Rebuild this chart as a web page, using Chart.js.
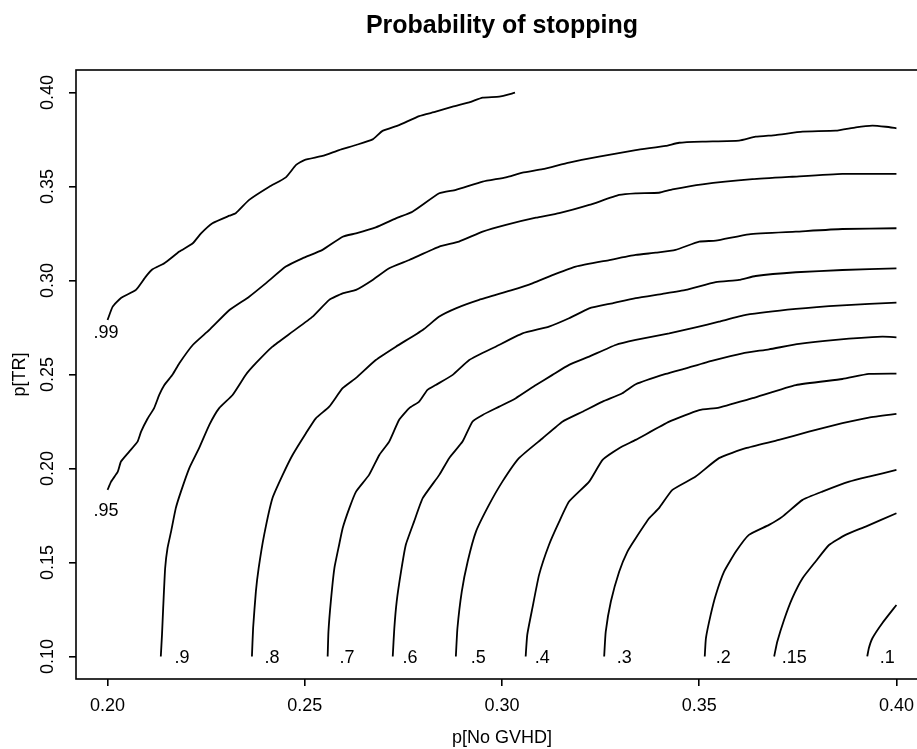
<!DOCTYPE html>
<html>
<head>
<meta charset="utf-8">
<script src="https://cdn.jsdelivr.net/npm/chart.js@4.4.1/dist/chart.umd.min.js"></script>
<style>
  html, body { margin: 0; padding: 0; background: #fff; overflow: hidden; }
  #wrap { width: 917px; height: 749px; overflow: hidden; }
</style>
</head>
<body>
<div id="wrap"><canvas id="stopChart" width="940" height="749"></canvas></div>
<script>
const xTicks = [0.20, 0.25, 0.30, 0.35, 0.40];
const yTicks = [0.10, 0.15, 0.20, 0.25, 0.30, 0.35, 0.40];

// contour levels and where their labels sit (data units)
const levels = [".99", ".95", ".9", ".8", ".7", ".6", ".5", ".4", ".3", ".2", ".15", ".1"];
const labelX = [0.1996, 0.1996, 0.2189, 0.2417, 0.2607, 0.2767, 0.2940, 0.3102, 0.3310, 0.3561, 0.3741, 0.3977];
const labelY = [0.2720, 0.1772, 0.099, 0.099, 0.099, 0.099, 0.099, 0.099, 0.099, 0.099, 0.099, 0.099];

// contour lines, [p(No GVHD), p(TR)]
const p99 = [[0.2000,0.2790],[0.2013,0.2861],[0.2034,0.2907],[0.2072,0.2950],[0.2097,0.3021],[0.2114,0.3060],[0.2144,0.3092],[0.2182,0.3154],[0.2216,0.3198],[0.2237,0.3251],[0.2266,0.3305],[0.2309,0.3345],[0.2325,0.3358],[0.2359,0.3429],[0.2410,0.3499],[0.2452,0.3549],[0.2478,0.3615],[0.2499,0.3641],[0.2545,0.3663],[0.2587,0.3694],[0.2630,0.3721],[0.2672,0.3751],[0.2697,0.3796],[0.2739,0.3827],[0.2790,0.3875],[0.2832,0.3898],[0.2875,0.3925],[0.2917,0.3948],[0.2951,0.3973],[0.2993,0.3978],[0.3033,0.3999]];
const p95 = [[0.2000,0.1886],[0.2009,0.1930],[0.2026,0.1983],[0.2034,0.2037],[0.2055,0.2090],[0.2076,0.2143],[0.2085,0.2196],[0.2102,0.2267],[0.2118,0.2321],[0.2131,0.2391],[0.2144,0.2444],[0.2165,0.2500],[0.2182,0.2560],[0.2216,0.2657],[0.2258,0.2737],[0.2309,0.2843],[0.2359,0.2914],[0.2401,0.2985],[0.2452,0.3074],[0.2494,0.3118],[0.2545,0.3163],[0.2596,0.3233],[0.2630,0.3251],[0.2680,0.3283],[0.2731,0.3331],[0.2773,0.3366],[0.2841,0.3464],[0.2883,0.3482],[0.2951,0.3526],[0.3010,0.3549],[0.3052,0.3574],[0.3103,0.3592],[0.3170,0.3627],[0.3246,0.3659],[0.3339,0.3694],[0.3415,0.3716],[0.3449,0.3733],[0.3508,0.3739],[0.3601,0.3744],[0.3643,0.3765],[0.3694,0.3774],[0.3762,0.3792],[0.3846,0.3797],[0.3897,0.3815],[0.3939,0.3824],[0.3973,0.3818],[0.4000,0.3810]];
const p90 = [[0.2135,0.1000],[0.2138,0.1115],[0.2141,0.1257],[0.2146,0.1469],[0.2152,0.1576],[0.2161,0.1664],[0.2173,0.1789],[0.2186,0.1877],[0.2207,0.2001],[0.2232,0.2108],[0.2258,0.2232],[0.2283,0.2321],[0.2317,0.2391],[0.2351,0.2500],[0.2376,0.2560],[0.2418,0.2648],[0.2469,0.2728],[0.2520,0.2808],[0.2562,0.2897],[0.2596,0.2932],[0.2630,0.2950],[0.2672,0.3003],[0.2714,0.3065],[0.2765,0.3109],[0.2841,0.3180],[0.2891,0.3207],[0.2951,0.3260],[0.3010,0.3296],[0.3086,0.3334],[0.3145,0.3358],[0.3221,0.3402],[0.3297,0.3455],[0.3339,0.3464],[0.3398,0.3467],[0.3432,0.3485],[0.3508,0.3512],[0.3635,0.3539],[0.3736,0.3552],[0.3863,0.3567],[0.4000,0.3567]];
const p80 = [[0.2366,0.1000],[0.2369,0.1150],[0.2376,0.1345],[0.2383,0.1469],[0.2397,0.1647],[0.2418,0.1842],[0.2444,0.1966],[0.2469,0.2072],[0.2503,0.2188],[0.2528,0.2267],[0.2562,0.2329],[0.2596,0.2427],[0.2630,0.2482],[0.2680,0.2577],[0.2731,0.2648],[0.2799,0.2737],[0.2841,0.2808],[0.2883,0.2852],[0.2942,0.2897],[0.3027,0.2950],[0.3077,0.2985],[0.3136,0.3035],[0.3187,0.3074],[0.3272,0.3109],[0.3339,0.3136],[0.3390,0.3148],[0.3440,0.3163],[0.3500,0.3207],[0.3542,0.3212],[0.3626,0.3246],[0.3745,0.3260],[0.3863,0.3274],[0.4000,0.3278]];
const p70 = [[0.2558,0.1000],[0.2560,0.1132],[0.2566,0.1292],[0.2575,0.1469],[0.2587,0.1593],[0.2596,0.1682],[0.2613,0.1789],[0.2630,0.1877],[0.2663,0.1966],[0.2689,0.2072],[0.2714,0.2143],[0.2739,0.2258],[0.2765,0.2321],[0.2790,0.2356],[0.2811,0.2418],[0.2832,0.2444],[0.2875,0.2498],[0.2917,0.2577],[0.2984,0.2648],[0.3052,0.2719],[0.3119,0.2755],[0.3170,0.2799],[0.3221,0.2852],[0.3280,0.2879],[0.3339,0.2906],[0.3407,0.2929],[0.3466,0.2950],[0.3542,0.2991],[0.3601,0.3003],[0.3643,0.3024],[0.3745,0.3044],[0.3863,0.3056],[0.4000,0.3065]];
const p60 = [[0.2723,0.1000],[0.2727,0.1150],[0.2733,0.1292],[0.2744,0.1451],[0.2756,0.1593],[0.2777,0.1717],[0.2799,0.1842],[0.2841,0.1966],[0.2866,0.2055],[0.2900,0.2143],[0.2925,0.2249],[0.2951,0.2285],[0.2993,0.2329],[0.3035,0.2374],[0.3086,0.2444],[0.3128,0.2498],[0.3170,0.2551],[0.3221,0.2595],[0.3288,0.2657],[0.3339,0.2684],[0.3424,0.2719],[0.3491,0.2751],[0.3550,0.2781],[0.3618,0.2817],[0.3745,0.2849],[0.3863,0.2868],[0.4000,0.2882]];
const p50 = [[0.2883,0.1000],[0.2887,0.1150],[0.2898,0.1345],[0.2913,0.1505],[0.2934,0.1664],[0.2967,0.1806],[0.3001,0.1930],[0.3043,0.2055],[0.3103,0.2161],[0.3153,0.2249],[0.3204,0.2302],[0.3255,0.2356],[0.3305,0.2400],[0.3339,0.2448],[0.3415,0.2503],[0.3466,0.2533],[0.3534,0.2574],[0.3610,0.2613],[0.3677,0.2634],[0.3753,0.2663],[0.3846,0.2684],[0.3964,0.2701],[0.4000,0.2698]];
const p40 = [[0.3060,0.1000],[0.3064,0.1115],[0.3077,0.1257],[0.3094,0.1434],[0.3119,0.1593],[0.3145,0.1717],[0.3170,0.1824],[0.3221,0.1930],[0.3255,0.2046],[0.3297,0.2108],[0.3339,0.2152],[0.3424,0.2249],[0.3500,0.2311],[0.3550,0.2324],[0.3635,0.2374],[0.3745,0.2444],[0.3863,0.2476],[0.3930,0.2503],[0.4000,0.2505]];
const p30 = [[0.3259,0.1000],[0.3263,0.1132],[0.3276,0.1292],[0.3297,0.1451],[0.3318,0.1558],[0.3339,0.1629],[0.3373,0.1735],[0.3398,0.1789],[0.3432,0.1886],[0.3491,0.1957],[0.3550,0.2055],[0.3618,0.2108],[0.3702,0.2152],[0.3778,0.2196],[0.3863,0.2241],[0.3930,0.2271],[0.4000,0.2290]];
const p20 = [[0.3514,0.1000],[0.3517,0.1097],[0.3529,0.1221],[0.3542,0.1327],[0.3563,0.1451],[0.3593,0.1558],[0.3626,0.1647],[0.3677,0.1700],[0.3711,0.1744],[0.3762,0.1833],[0.3812,0.1877],[0.3880,0.1930],[0.3930,0.1957],[0.4000,0.1992]];
const p15 = [[0.3690,0.1000],[0.3698,0.1079],[0.3715,0.1194],[0.3736,0.1310],[0.3762,0.1416],[0.3795,0.1505],[0.3829,0.1593],[0.3871,0.1647],[0.3922,0.1691],[0.4000,0.1762]];
const p10 = [[0.3926,0.1000],[0.3930,0.1044],[0.3939,0.1097],[0.3964,0.1177],[0.4000,0.1274]];

const curves = [p99, p95, p90, p80, p70, p60, p50, p40, p30, p20, p15, p10];

const FONT = "'Liberation Sans', Arial, Helvetica, sans-serif";

// frame, contour labels and the main title
const framePlugin = {
  id: "framePlugin",
  afterDatasetsDraw(chart) {
    const { ctx, chartArea: a, scales } = chart;
    ctx.save();
    ctx.strokeStyle = "#000";
    ctx.lineWidth = 1.6;
    ctx.strokeRect(a.left, a.top, a.right - a.left, a.bottom - a.top);

    ctx.fillStyle = "#000";
    ctx.textAlign = "center";
    ctx.textBaseline = "middle";
    ctx.font = "18px " + FONT;
    levels.forEach((txt, i) => {
      ctx.fillText(txt, scales.x.getPixelForValue(labelX[i]), scales.y.getPixelForValue(labelY[i]));
    });

    ctx.font = "bold 25px " + FONT;
    ctx.textBaseline = "alphabetic";
    ctx.fillText("Probability of stopping", (a.left + a.right) / 2, 33);
    ctx.restore();
  }
};

const ctx = document.getElementById("stopChart").getContext("2d");

new Chart(ctx, {
  type: "scatter",
  plugins: [framePlugin],
  data: {
    datasets: curves.map((pts, i) => ({
      label: levels[i],
      data: pts.map(([x, y]) => ({ x: x, y: y })),
      showLine: true,
      borderColor: "#000",
      borderWidth: 1.8,
      pointRadius: 0,
      tension: 0.15,
      fill: false
    }))
  },
  options: {
    responsive: false,
    animation: false,
    layout: { padding: { top: 70, right: 12, left: 0, bottom: 0 } },
    plugins: {
      legend: { display: false },
      tooltip: { enabled: false }
    },
    scales: {
      x: {
        type: "linear",
        min: 0.192,
        max: 0.408,
        afterBuildTicks: (s) => { s.ticks = xTicks.map(v => ({ value: v })); },
        afterFit: (s) => { s.height = 70; },
        border: { display: false },
        grid: { drawOnChartArea: false, drawTicks: true, tickLength: 7, color: "#000", lineWidth: 1.6 },
        ticks: {
          color: "#000",
          font: { family: FONT, size: 18 },
          padding: 9,
          maxRotation: 0,
          autoSkip: false,
          callback: (v) => v.toFixed(2)
        },
        title: {
          display: true,
          text: "p[No GVHD]",
          color: "#000",
          font: { family: FONT, size: 18 },
          padding: { top: 0, bottom: 0 }
        }
      },
      y: {
        type: "linear",
        min: 0.088,
        max: 0.412,
        afterBuildTicks: (s) => { s.ticks = yTicks.map(v => ({ value: v })); },
        afterFit: (s) => { s.width = 76; },
        border: { display: false },
        grid: { drawOnChartArea: false, drawTicks: true, tickLength: 7, color: "#000", lineWidth: 1.6 },
        ticks: {
          color: "#000",
          font: { family: FONT, size: 18 },
          padding: 3,
          minRotation: 90,
          maxRotation: 90,
          crossAlign: "center",
          autoSkip: false,
          callback: (v) => v.toFixed(2)
        },
        title: {
          display: true,
          text: "p[TR]",
          color: "#000",
          font: { family: FONT, size: 18 },
          padding: { top: 9, bottom: 0 }
        }
      }
    }
  }
});
</script>
</body>
</html>
